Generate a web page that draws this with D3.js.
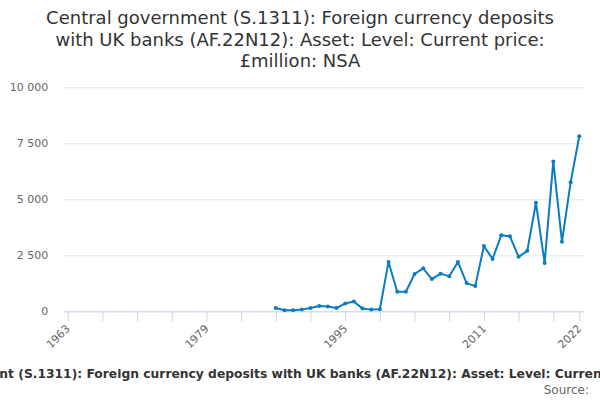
<!DOCTYPE html>
<html>
<head>
<meta charset="utf-8">
<script src="https://cdn.jsdelivr.net/npm/d3@7"></script>
<style>
  html, body { margin: 0; padding: 0; background: #fff; }
  svg { display: block; font-family: "DejaVu Sans", Verdana, sans-serif; }
</style>
</head>
<body>
<svg id="chart" width="600" height="400"></svg>
<script>
// Values
const titleLines = [
    "Central government (S.1311): Foreign currency deposits",
    "with UK banks (AF.22N12): Asset: Level: Current price:",
    "£million: NSA"
];
const caption = "Central government (S.1311): Foreign currency deposits with UK banks (AF.22N12): Asset: Level: Current price: £million: NSA";

const years = [1987, 1988, 1989, 1990, 1991, 1992, 1993, 1994, 1995, 1996,
    1997, 1998, 1999, 2000, 2001, 2002, 2003, 2004, 2005, 2006,
    2007, 2008, 2009, 2010, 2011, 2012, 2013, 2014, 2015, 2016,
    2017, 2018, 2019, 2020, 2021, 2022];
const values = [150, 45, 45, 75, 150, 240, 210, 150, 345, 435,
    120, 75, 90, 2205, 870, 870, 1665, 1920, 1440, 1680,
    1560, 2205, 1260, 1125, 2910, 2340, 3390, 3345, 2430, 2700,
    4845, 2160, 6690, 3105, 5760, 7815];

const yTicks = [0, 2500, 5000, 7500, 10000];
const xMinorTicks = [1963, 1967, 1971, 1975, 1979, 1983, 1987, 1991, 1995, 1999,
    2003, 2007, 2011, 2015, 2019, 2022];
const xLabels = [1963, 1979, 1995, 2011, 2022];

const svg = d3.select("#chart");
const margin = { top: 87.3, right: 16, bottom: 88.7, left: 64 };
const width = 600 - margin.left - margin.right;
const height = 400 - margin.top - margin.bottom;

// Title
svg.append("text")
    .attr("x", 300)
    .attr("y", 24)
    .attr("text-anchor", "middle")
    .attr("fill", "#333333")
    .style("font-size", "18px")
    .selectAll("tspan")
    .data(titleLines)
    .enter().append("tspan")
    .attr("x", 300)
    .attr("dy", (d, i) => i === 0 ? 0 : 21.7)
    .text(d => d);

var x = d3.scaleLinear().domain([1963, 2022]).range([3.7, 515.3]);
var y = d3.scaleLinear().domain([0, 10000]).range([height, 0]);

var g = svg.append("g")
    .attr("transform", "translate(" + margin.left + "," + margin.top + ")");

// Grid lines
g.append("g")
    .attr("class", "grid")
    .call(d3.axisLeft(y).tickValues(yTicks).tickSize(-width).tickFormat(""))
    .call(s => s.select(".domain").remove())
    .call(s => s.selectAll("line").attr("stroke", "#e6e6e6"));

// Y labels
const fmt = d => d3.format(",")(d).replace(/,/g, " ");
g.append("g")
    .attr("class", "axis axis--y")
    .call(d3.axisLeft(y).tickValues(yTicks).tickSize(0).tickPadding(15.7).tickFormat(fmt))
    .call(s => s.select(".domain").remove())
    .call(s => s.selectAll("text")
        .attr("fill", "#666666")
        .style("font-size", "11px")
        .style("font-family", "DejaVu Sans, sans-serif"));

// X axis with ticks
g.append("g")
    .attr("class", "axis axis--x")
    .attr("transform", "translate(0," + height + ")")
    .call(d3.axisBottom(x).tickValues(xMinorTicks).tickSize(10).tickFormat(""))
    .call(s => s.select(".domain").attr("stroke", "#ccd6eb").attr("d", "M0,0.5H" + width))
    .call(s => s.selectAll("line").attr("stroke", "#ccd6eb"));

// X labels, rotated
g.append("g")
    .selectAll("text")
    .data(xLabels)
    .enter().append("text")
    .attr("transform", d => "translate(" + (x(d) + 3) + "," + (height + 18) + ") rotate(-45)")
    .attr("text-anchor", "end")
    .attr("fill", "#666666")
    .style("font-size", "11px")
    .text(d => d);

// Series
const points = years.map((yr, i) => ({ year: yr, value: values[i] }));
const line = d3.line().x(d => x(d.year)).y(d => y(d.value));

g.append("path")
    .datum(points)
    .attr("fill", "none")
    .attr("stroke", "#0b7cc1")
    .attr("stroke-width", 2)
    .attr("stroke-linejoin", "round")
    .attr("d", line);

g.selectAll(".dot")
    .data(points)
    .enter().append("circle")
    .attr("class", "dot")
    .attr("cx", d => x(d.year))
    .attr("cy", d => y(d.value))
    .attr("r", 2)
    .attr("fill", "#0b7cc1");

// Caption and source
svg.append("text")
    .attr("x", 312)
    .attr("y", 378)
    .attr("text-anchor", "middle")
    .attr("fill", "#333333")
    .style("font-size", "12.3px")
    .style("font-weight", "bold")
    .text(caption);

svg.append("text")
    .attr("x", 589)
    .attr("y", 394)
    .attr("text-anchor", "end")
    .attr("fill", "#666666")
    .style("font-size", "12px")
    .text("Source:");
</script>
</body>
</html>
